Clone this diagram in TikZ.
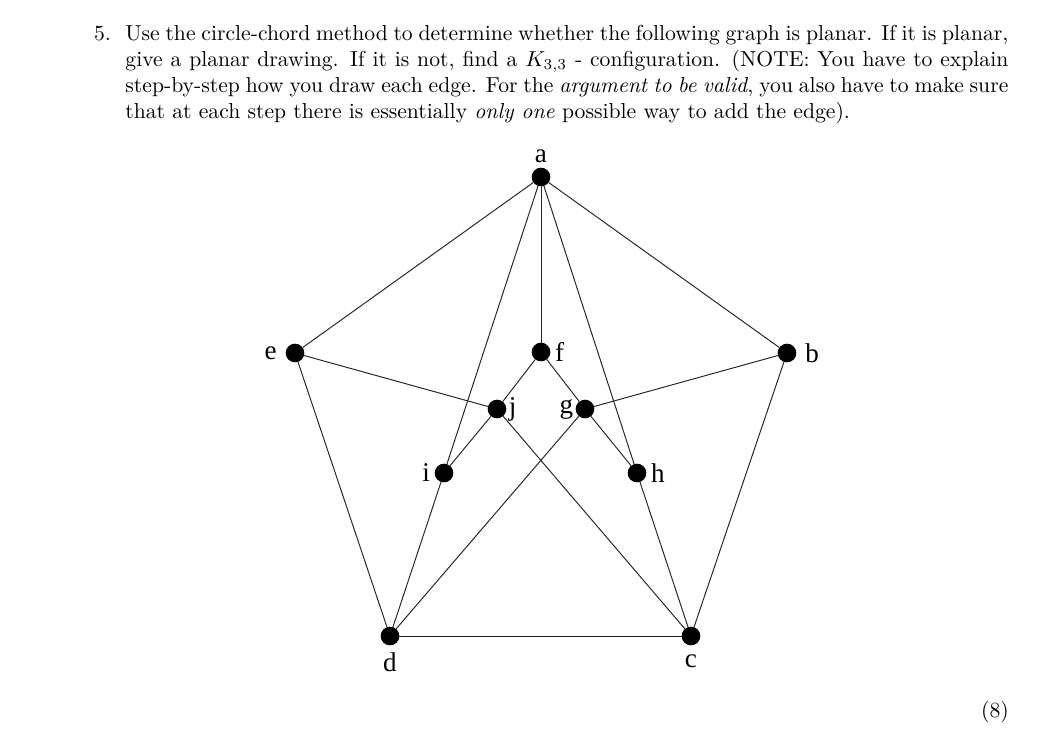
\documentclass[tikz,border=0pt]{standalone}
\usepackage{amsmath,amssymb}
\usepackage{fontspec}
\newfontfamily\figfont{Liberation Serif}
\usetikzlibrary{positioning}
\tikzset{
  vtx/.style={circle,fill=black,draw=black,inner sep=0pt,minimum size=8.2pt},
  uedge/.style={line width=0.45pt,draw=black!85},
  every label/.style={font=\figfont\fontsize{12.5}{14}\selectfont,inner sep=1pt},
  every node/.style={font=\normalsize}
}

\begin{document}
\begin{tikzpicture}[x=0.4615pt,y=-0.4615pt]
\useasboundingbox (0,0) rectangle (1055,740);
% the question
\node[anchor=north west,inner sep=0pt,text width=407.5pt,align=justify] (task) at (125,25)
  {\noindent\llap{5.\ \ }Use the circle-chord method to determine whether the following graph is planar. If it is planar,\linebreak
  give a planar drawing. If it is not, find a $K_{3,3}$ - configuration. (NOTE: You have to explain\linebreak
  step-by-step how you draw each edge. For the \emph{argument to be valid}, you also have to make sure\linebreak
  that at each step there is essentially \emph{only one} possible way to add the edge).};
% vertices
\node[vtx,label={[label distance=1pt]above:a}] (a) at (541,177) {};
\node[vtx,label={[label distance=3pt]left:e}] (e) at (295,353) {};
\node[vtx,label={[label distance=1pt]right:f}] (f) at (541,352) {};
\node[vtx,label={[label distance=3pt]right:b}] (b) at (787,353) {};
\node[vtx,label={[label distance=0pt]right:j}] (j) at (497,409) {};
\node[vtx,label={[label distance=0pt]left:g}] (g) at (585,409) {};
\node[vtx,label={[label distance=1pt]left:i}] (i) at (444,473) {};
\node[vtx,label={[label distance=1pt]right:h}] (h) at (637,473) {};
\node[vtx,label={[label distance=2pt]below:d}] (d) at (390,636) {};
\node[vtx,label={[label distance=3pt]below:c}] (c) at (691,636) {};
% edges
\foreach \u/\v in {a/e,a/b,a/f,a/i,a/h,e/j,e/d,b/g,b/c,f/j,f/g,j/i,j/c,g/h,g/d,i/d,h/c,d/c}
  \draw[uedge] (\u) -- (\v);
% marks
\node (marks) at (995,712) {(8)};
\end{tikzpicture}
\end{document}
